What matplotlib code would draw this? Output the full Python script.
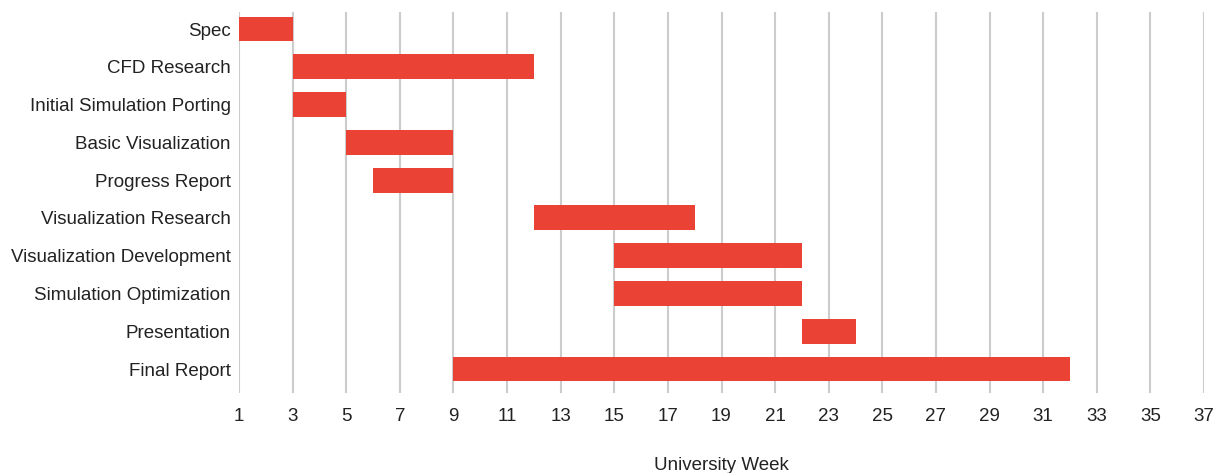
import matplotlib.pyplot as plt

tasks = ["Spec", "CFD Research", "Initial Simulation Porting", "Basic Visualization",
         "Progress Report", "Visualization Research", "Visualization Development",
         "Simulation Optimization", "Presentation", "Final Report"]
start_week = [1, 3, 3, 5, 6, 12, 15, 15, 22, 9]
end_week = [3, 12, 5, 9, 9, 18, 22, 22, 24, 32]
week_ticks = list(range(1, 38, 2))

plt.rcParams['font.family'] = ['Liberation Sans', 'DejaVu Sans']

fig = plt.figure(figsize=(12.16, 4.73), dpi=100)
ax = fig.add_axes([239 / 1216, 1 - 393 / 473, (1204 - 239) / 1216, 381 / 473])

durations = [e - s for s, e in zip(start_week, end_week)]
ax.barh(range(len(tasks)), durations, left=start_week, height=0.66,
        color="#EA4335", zorder=3)

ax.set_xlim(1, 37)
ax.set_ylim(9.635, -0.45)
ax.set_xticks(week_ticks)
ax.set_yticks(range(len(tasks)))
ax.set_yticklabels(tasks)
ax.tick_params(length=0, labelsize=13.5, colors="#222222")
ax.tick_params(axis="x", pad=10.5)
ax.tick_params(axis="y", pad=6)
ax.grid(axis="x", color="#cccccc", linewidth=1.5, zorder=0)
for s in ax.spines.values():
    s.set_visible(False)

ax.set_xlabel("University Week", fontsize=13.5, color="#222222", labelpad=23.5)

fig.savefig("out.png", dpi=100)
